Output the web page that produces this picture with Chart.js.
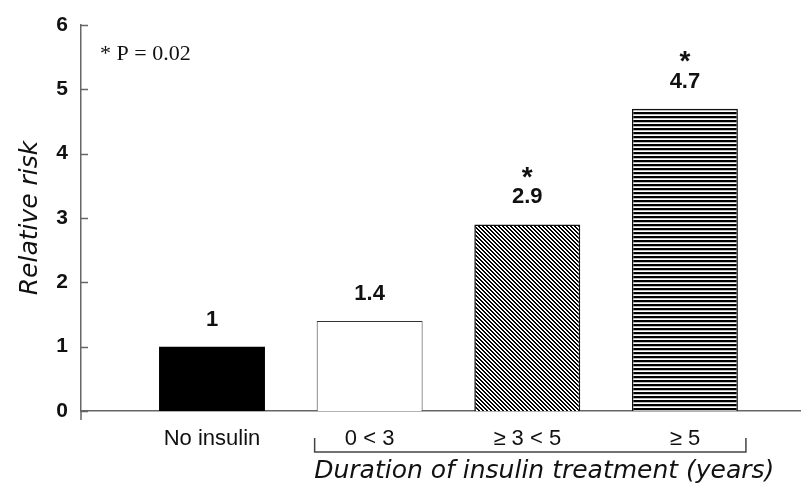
<!DOCTYPE html>
<html>
<head>
<meta charset="utf-8">
<script src="https://cdn.jsdelivr.net/npm/chart.js@4.4.1/dist/chart.umd.min.js"></script>
<style>
  html, body { margin: 0; padding: 0; background: #fff; }
  #wrap { width: 809px; height: 492px; }
</style>
</head>
<body>
<div id="wrap"><canvas id="chart"></canvas></div>
<script>
const categories = ["No insulin", "0 < 3", "≥ 3 < 5", "≥ 5"]
const relativeRisk = [1, 1.4, 2.9, 4.7]
const riskLabels = ["1", "1.4", "2.9", "4.7"]
const significant = [false, false, true, true]
const yTicks = [0, 1, 2, 3, 4, 5, 6]
const pNote = "* P = 0.02"
const yTitle = "Relative risk"
const xTitle = "Duration of insulin treatment (years)"

// small tiles for the hatched bars
function makePattern(kind) {
  const c = document.createElement("canvas")
  c.width = 4
  c.height = 4
  const g = c.getContext("2d")
  g.fillStyle = "#fff"
  g.fillRect(0, 0, 4, 4)
  g.fillStyle = "#000"
  if (kind === "diag") {
    for (let y = 0; y < 4; y++) g.fillRect(y, y, 2, 1)
    g.fillRect(0, 3, 1, 1)
  } else {
    g.fillRect(0, 0, 4, 2)
    g.fillStyle = "#bbb"
    g.fillRect(0, 2, 4, 1)
  }
  return g.createPattern(c, "repeat")
}

const barFills = ["#000", "#fff", makePattern("diag"), makePattern("horiz")]
const barBorders = ["#000", "#333", "#111", "#111"]

const annotate = {
  id: "annotate",
  afterDatasetsDraw(chart) {
    const ctx = chart.ctx
    const x = chart.scales.x
    const y = chart.scales.y
    const area = chart.chartArea
    ctx.save()

    // inward tick marks on the y axis, plus the little stub below 0
    ctx.strokeStyle = "#666"
    ctx.lineWidth = 1.5
    ctx.beginPath()
    yTicks.forEach(v => {
      const py = Math.round(y.getPixelForValue(v)) + 0.5
      ctx.moveTo(area.left, py)
      ctx.lineTo(area.left + 7, py)
    })
    ctx.moveTo(area.left, area.bottom)
    ctx.lineTo(area.left, area.bottom + 9)
    ctx.stroke()

    // value labels and significance stars
    const meta = chart.getDatasetMeta(0)
    ctx.fillStyle = "#111"
    ctx.textAlign = "center"
    ctx.textBaseline = "middle"
    meta.data.forEach((bar, i) => {
      ctx.font = "bold 22px 'Liberation Sans', Arial, sans-serif"
      ctx.fillText(riskLabels[i], bar.x, bar.y - 27)
      if (significant[i]) {
        ctx.font = "bold 28px 'Liberation Sans', Arial, sans-serif"
        ctx.fillText("*", bar.x, bar.y - 46)
      }
    })

    // p-value note
    ctx.textAlign = "left"
    ctx.font = "22px 'Liberation Serif', 'Times New Roman', serif"
    ctx.fillText(pNote, area.left + 19, y.getPixelForValue(5.55))

    // bracket under the insulin groups
    const bx1 = x.getPixelForValue(1) - 55
    const bx2 = x.getPixelForValue(3) + 61
    ctx.strokeStyle = "#444"
    ctx.lineWidth = 1.5
    ctx.beginPath()
    ctx.moveTo(bx1, area.bottom + 27)
    ctx.lineTo(bx1, area.bottom + 41)
    ctx.lineTo(bx2, area.bottom + 41)
    ctx.lineTo(bx2, area.bottom + 27)
    ctx.stroke()

    // x axis title
    ctx.textAlign = "center"
    ctx.textBaseline = "alphabetic"
    ctx.font = "italic 25px 'DejaVu Sans', Verdana, sans-serif"
    ctx.fillText(xTitle, (bx1 + bx2) / 2 + 14, area.bottom + 67)
    ctx.restore()
  }
}

new Chart(document.getElementById("chart"), {
  type: "bar",
  data: {
    datasets: [{
      data: relativeRisk.map((v, i) => ({ x: i, y: v })),
      backgroundColor: barFills,
      borderColor: barBorders,
      borderWidth: [0, 1, 1.5, 1.5],
      barPercentage: 0.672,
      categoryPercentage: 1
    }]
  },
  options: {
    responsive: true,
    maintainAspectRatio: false,
    animation: false,
    layout: { padding: { top: 25, right: 9, bottom: 0, left: 0 } },
    plugins: {
      legend: { display: false },
      tooltip: { enabled: false }
    },
    scales: {
      x: {
        type: "linear",
        offset: false,
        min: -0.831,
        max: 3.73,
        afterBuildTicks: s => { s.ticks = categories.map((c, i) => ({ value: i })) },
        afterFit: s => { s.height = 81 },
        grid: { display: false },
        border: { display: true, color: "#666", width: 1.5 },
        ticks: {
          autoSkip: false,
          maxRotation: 0,
          padding: 7,
          color: "#111",
          font: { family: "'Liberation Sans', Arial, sans-serif", size: 22 },
          callback: v => categories[v] ?? ""
        }
      },
      y: {
        min: 0,
        max: 6,
        afterBuildTicks: s => { s.ticks = yTicks.map(v => ({ value: v })) },
        afterFit: s => { s.width = 81 },
        grid: { display: false },
        border: { display: true, color: "#666", width: 1.5 },
        ticks: {
          padding: 5,
          color: "#111",
          font: { family: "'Liberation Sans', Arial, sans-serif", size: 21, weight: "bold" }
        },
        title: {
          display: true,
          text: yTitle,
          color: "#111",
          font: { family: "'DejaVu Sans', Verdana, sans-serif", size: 25, style: "italic" },
          padding: { top: 15, bottom: 0 }
        }
      }
    }
  },
  plugins: [annotate]
})
</script>
</body>
</html>
